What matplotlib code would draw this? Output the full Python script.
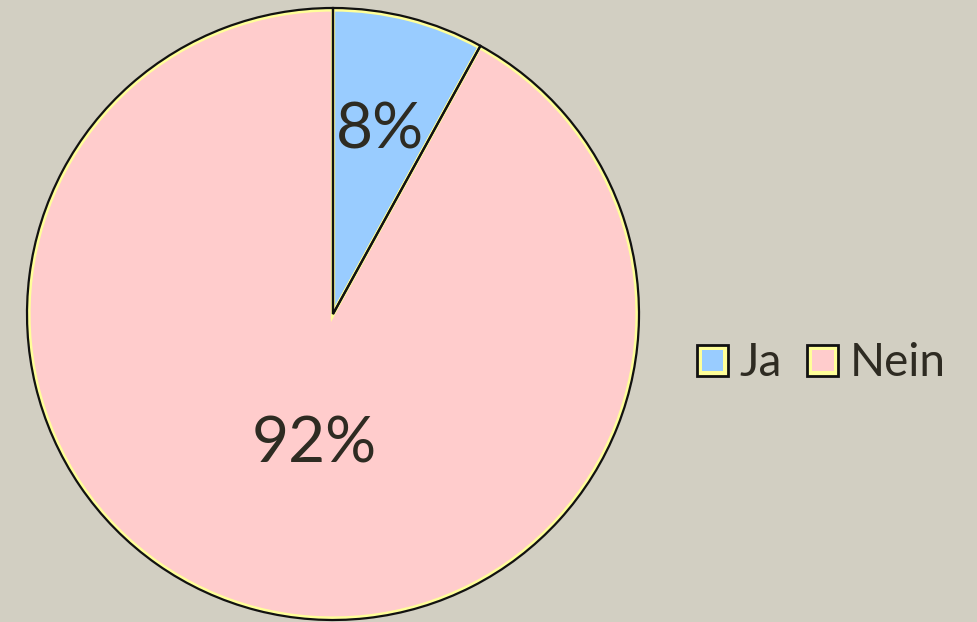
import numpy as np
import matplotlib.pyplot as plt
from matplotlib.patches import Rectangle
from matplotlib.legend_handler import HandlerBase

# data
labels = ['Ja', 'Nein']
shares = [8, 92]
colors = ['#99CCFF', '#FFCCCC']
label_dist = [0.62, 0.44]

bg = '#D2CFC2'
ink = '#2E2B22'
rim = '#FFFF99'

plt.rcParams['font.family'] = ['Lato', 'DejaVu Sans']

fig = plt.figure(figsize=(9.77, 6.22), dpi=100, facecolor=bg)
ax = fig.add_axes([0, 0, 1, 1])
ax.set_facecolor(bg)

cx, cy, R = 333, 308, 306

# yellow rim just inside the black outline
ax.pie(shares, colors=colors, startangle=90, counterclock=False,
       center=(cx, cy), radius=R - 1.5, frame=True,
       wedgeprops=dict(edgecolor=rim, linewidth=3))
wedges, _ = ax.pie(shares, colors=['none', 'none'], startangle=90, counterclock=False,
                   center=(cx, cy), radius=R, frame=True,
                   wedgeprops=dict(edgecolor='#111111', linewidth=1.6))
ax.axis('off')
ax.set_xlim(0, 977)
ax.set_ylim(0, 622)
ax.set_aspect('equal')

for w, s, d in zip(wedges, shares, label_dist):
    mid = np.deg2rad((w.theta1 + w.theta2) / 2)
    ax.text(cx + d * R * np.cos(mid) + (15 if s > 50 else 0), cy + d * R * np.sin(mid), f'{s}%',
            ha='center', va='center', fontsize=46, color=ink)


class SquareHandler(HandlerBase):
    def create_artists(self, legend, orig, xd, yd, width, height, fontsize, trans):
        s = min(width, height)
        x0 = xd + (width - s) / 2
        y0 = yd + (height - s) / 2
        outer = Rectangle((x0, y0), s, s, facecolor=rim, edgecolor='#111111',
                          linewidth=2, transform=trans)
        inner = Rectangle((x0 + 3.5, y0 + 3.5), s - 7, s - 7, facecolor=orig.get_facecolor(),
                          edgecolor='none', transform=trans)
        return [outer, inner]


handles = [Rectangle((0, 0), 1, 1, facecolor=c) for c in colors]
leg = ax.legend(handles, labels, loc='center left', bbox_to_anchor=(697 / 977, 259 / 622),
                bbox_transform=fig.transFigure, ncol=2, frameon=False, fontsize=33,
                handlelength=0.68, handleheight=0.68, handletextpad=0.25, columnspacing=0.55,
                borderpad=0, borderaxespad=0, handler_map={Rectangle: SquareHandler()})
for t in leg.get_texts():
    t.set_color(ink)

fig.savefig('out.png', dpi=100, facecolor=bg)
